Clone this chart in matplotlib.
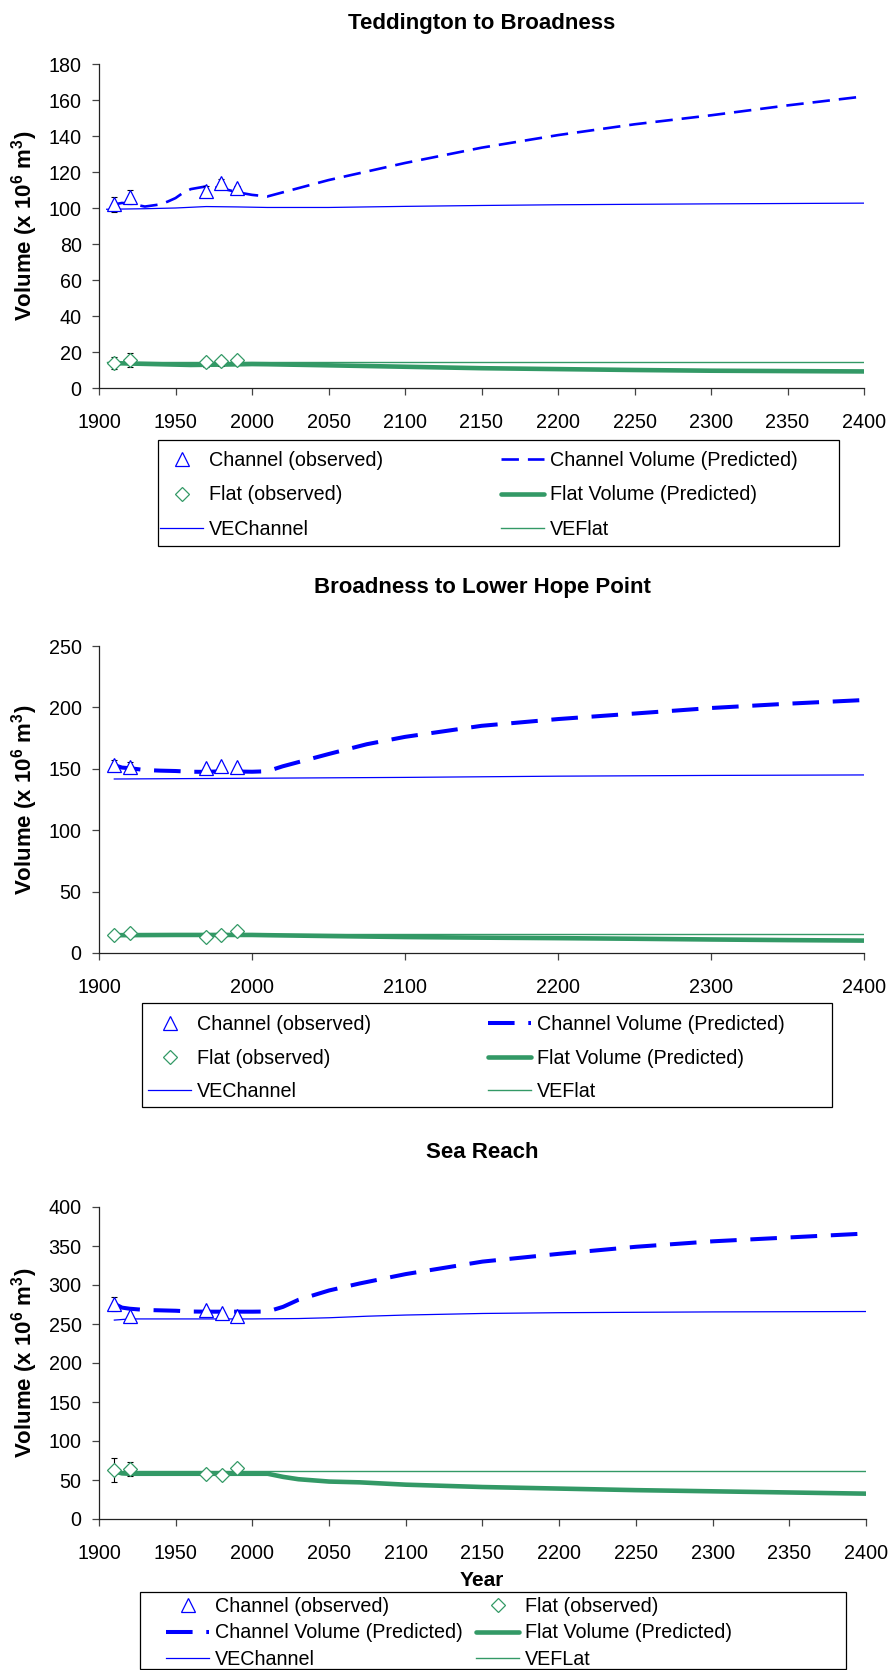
import matplotlib
matplotlib.use('Agg')
import matplotlib.pyplot as plt
from matplotlib.patches import Rectangle

plt.rcParams['font.family'] = ['Liberation Sans', 'DejaVu Sans']
plt.rcParams['mathtext.fontset'] = 'custom'
plt.rcParams['mathtext.rm'] = 'Liberation Sans'
plt.rcParams['mathtext.bf'] = 'Liberation Sans:bold'

W, H = 891, 1670
BLUE = '#0000ff'
GREEN = '#339966'
LEGEND_FS = 14.2

# observed survey years (same for all reaches)
obs_years = [1910, 1920, 1970, 1980, 1990]

# --- Teddington to Broadness ---
ted_channel_obs = [102, 106, 109.7, 113.8, 111]
ted_channel_err = [4, 4, 2.5, 2.5, 1]
ted_flat_obs = [13.9, 15.7, 14.2, 14.8, 15.3]
ted_flat_err = [3.5, 4, 2.7, 2.5, 1]
ted_pred_years = [1910, 1915, 1920, 1930, 1940, 1945, 1950, 1955, 1960, 1970,
                  1980, 1990, 2000, 2010, 2050, 2100, 2150, 2200, 2250, 2300,
                  2350, 2400]
ted_channel_pred = [102, 102.8, 102.5, 100.8, 102, 103.6, 105.5, 108.5, 110.5,
                    112, 111, 108.8, 107.3, 106.4, 115.5, 125, 133.5, 140.5,
                    146.5, 151.5, 157, 162]
ted_flat_years = [1910, 1930, 1960, 1980, 2000, 2010, 2050, 2100, 2150, 2200,
                  2250, 2300, 2350, 2400]
ted_flat_pred = [13.8, 13.4, 12.8, 13, 13.3, 13.2, 12.6, 11.8, 11, 10.5, 10,
                 9.6, 9.4, 9.2]
ted_ve_years = [1905, 1930, 1950, 1970, 1990, 2010, 2050, 2100, 2150, 2200,
                2300, 2400]
ted_ve_channel = [99.3, 99.6, 100, 100.8, 100.6, 100.3, 100.3, 100.9, 101.4,
                  101.8, 102.3, 102.7]
ted_veflat_years = [1905, 2000, 2100, 2200, 2300, 2400]
ted_ve_flat = [14.2, 14.2, 14.2, 14.2, 14.2, 14.2]

# --- Broadness to Lower Hope Point ---
blh_channel_obs = [153, 151.7, 150.9, 152.3, 151.2]
blh_channel_err = [4, 4, 0, 0, 0]
blh_flat_obs = [14.7, 16, 13.3, 14.7, 18.2]
blh_flat_err = [0, 0, 0, 0, 0]
blh_pred_years = [1910, 1915, 1920, 1930, 1940, 1950, 1960, 1970, 1980, 1990,
                  2000, 2010, 2020, 2050, 2075, 2100, 2150, 2200, 2250, 2300,
                  2350, 2400]
blh_channel_pred = [153, 151, 150.5, 149, 148.5, 148.2, 147.6, 147.5, 148,
                    147.8, 147.6, 148, 152, 162, 170, 176, 185, 190.5, 195,
                    199.5, 203, 206]
blh_flat_years = [1910, 1950, 2000, 2010, 2050, 2100, 2150, 2200, 2250, 2300,
                  2350, 2400]
blh_flat_pred = [14.5, 14.7, 14.7, 14.5, 13.8, 13, 12.5, 12.1, 11.6, 11, 10.5,
                 10.1]
blh_ve_years = [1910, 2000, 2100, 2200, 2300, 2400]
blh_ve_channel = [141.7, 142.3, 143, 144, 144.6, 145]
blh_veflat_years = [1910, 2000, 2100, 2200, 2300, 2400]
blh_ve_flat = [15.2, 15.2, 15.2, 15.2, 15.2, 15.2]

# --- Sea Reach ---
sea_channel_obs = [275.6, 259.7, 267.4, 264, 259.7]
sea_channel_err = [8.5, 0, 0, 0, 0]
sea_flat_obs = [62.3, 64.1, 58, 56, 65.4]
sea_flat_err = [15.5, 9.5, 0, 5, 0]
sea_pred_years = [1910, 1915, 1920, 1930, 1940, 1950, 1960, 1970, 1980, 1990,
                  2000, 2010, 2020, 2030, 2050, 2070, 2100, 2150, 2200, 2250,
                  2300, 2350, 2400]
sea_channel_pred = [276, 271, 269.6, 268, 267.5, 267, 266, 265.8, 265.8, 265.8,
                    265.8, 266, 272, 281, 293, 302, 314, 330, 340, 349, 356,
                    361, 366]
sea_flat_years = [1910, 1915, 1920, 1950, 2000, 2010, 2020, 2030, 2050, 2070,
                  2100, 2150, 2200, 2250, 2300, 2350, 2400]
sea_flat_pred = [61, 58.5, 58, 58, 58, 58, 54, 51, 48, 47, 44, 41, 39, 37,
                 35.5, 34, 32.5]
sea_ve_years = [1910, 1920, 1950, 2000, 2030, 2050, 2075, 2100, 2150, 2200,
                2300, 2400]
sea_ve_channel = [255, 256.5, 256.5, 256.5, 257, 258, 260, 261.5, 263.5, 264.5,
                  265.5, 266]
sea_veflat_years = [1910, 2000, 2100, 2200, 2300, 2400]
sea_ve_flat = [61, 61, 61, 61, 61, 61]


fig = plt.figure(figsize=(W / 100, H / 100), dpi=100)


def px_axes(left, right, top, bottom):
    return fig.add_axes([left / W, 1 - bottom / H,
                         (right - left) / W, (bottom - top) / H])


def draw_panel(ax, chan_obs, chan_err, flat_obs, flat_err,
               pred_years, chan_pred, flat_years, flat_pred,
               ve_years, ve_chan, vf_years, ve_flat,
               dash_lw, ylim, yticks, xticks):
    h_vf, = ax.plot(vf_years, ve_flat, color=GREEN, lw=1.0, zorder=2)
    h_vc, = ax.plot(ve_years, ve_chan, color=BLUE, lw=0.9, zorder=2)
    h_fp, = ax.plot(flat_years, flat_pred, color=GREEN, lw=3.3, zorder=3,
                    solid_capstyle='round')
    h_cp, = ax.plot(pred_years, chan_pred, color=BLUE, lw=dash_lw, zorder=3,
                    dashes=(6.6, 3.4))
    ax.errorbar(obs_years, chan_obs, yerr=chan_err, fmt='none', ecolor='black',
                elinewidth=0.8, capsize=2.5, capthick=0.8, zorder=4)
    ax.errorbar(obs_years, flat_obs, yerr=flat_err, fmt='none', ecolor='black',
                elinewidth=0.8, capsize=2.5, capthick=0.8, zorder=4)
    h_co, = ax.plot(obs_years, chan_obs, ls='none', marker='^', ms=10,
                    mfc='white', mec=BLUE, mew=0.9, zorder=5)
    h_fo, = ax.plot(obs_years, flat_obs, ls='none', marker='D', ms=7,
                    mfc='white', mec=GREEN, mew=0.9, zorder=5)

    ax.set_xlim(1900, 2400)
    ax.set_ylim(*ylim)
    ax.set_xticks(xticks)
    ax.set_yticks(yticks)
    for side in ('top', 'right'):
        ax.spines[side].set_visible(False)
    for side in ('left', 'bottom'):
        ax.spines[side].set_linewidth(0.9)
        ax.spines[side].set_color('#222222')
    ax.tick_params(length=5, width=0.9, color='#444444', labelsize=14.2)
    ax.tick_params(axis='y', pad=7.5)
    ax.tick_params(axis='x', pad=13)
    return dict(co=h_co, fo=h_fo, vc=h_vc, cp=h_cp, fp=h_fp, vf=h_vf)


def draw_legend(columns, col_x, row_mid, spacing, frame):
    x0, x1, y0, y1 = frame
    fig.patches.append(Rectangle((x0 / W, 1 - y1 / H), (x1 - x0) / W,
                                 (y1 - y0) / H, transform=fig.transFigure,
                                 fill=False, edgecolor='black', lw=0.9))
    for entries, cx in zip(columns, col_x):
        handles = [e[0] for e in entries]
        labels = [e[1] for e in entries]
        fig.legend(handles, labels, loc='center left',
                   bbox_to_anchor=(cx / W, 1 - row_mid / H),
                   frameon=False, fontsize=LEGEND_FS, borderpad=0,
                   borderaxespad=0, handlelength=2.2, handletextpad=0.3,
                   labelspacing=spacing)


def title(text, y):
    fig.text(482 / W, 1 - y / H, text, ha='center', va='center',
             fontsize=16, fontweight='bold')


def ylabel(top, bottom):
    fig.text(25 / W, 1 - (top + bottom) / 2 / H,
             r'Volume (x 10$^{\mathbf{6}}$ m$^{\mathbf{3}}$)',
             rotation=90, ha='center', va='center', fontsize=16,
             fontweight='bold')


# Teddington to Broadness
ax1 = px_axes(99, 864, 64, 388)
h1 = draw_panel(ax1, ted_channel_obs, ted_channel_err, ted_flat_obs,
                ted_flat_err, ted_pred_years, ted_channel_pred,
                ted_flat_years, ted_flat_pred, ted_ve_years, ted_ve_channel,
                ted_veflat_years, ted_ve_flat, 1.9, (0, 180),
                range(0, 181, 20), range(1900, 2401, 50))
title('Teddington to Broadness', 23)
ylabel(64, 388)
draw_legend(
    [[(h1['co'], 'Channel (observed)'), (h1['fo'], 'Flat (observed)'),
      (h1['vc'], 'VEChannel')],
     [(h1['cp'], 'Channel Volume (Predicted)'),
      (h1['fp'], 'Flat Volume (Predicted)'), (h1['vf'], 'VEFlat')]],
    [160, 501], 495, 0.8, (157.5, 839, 440, 546))

# Broadness to Lower Hope Point
ax2 = px_axes(99, 864, 646, 953)
h2 = draw_panel(ax2, blh_channel_obs, blh_channel_err, blh_flat_obs,
                blh_flat_err, blh_pred_years, blh_channel_pred,
                blh_flat_years, blh_flat_pred, blh_ve_years, blh_ve_channel,
                blh_veflat_years, blh_ve_flat, 2.9, (0, 250),
                range(0, 251, 50), range(1900, 2401, 100))
title('Broadness to Lower Hope Point', 588)
ylabel(646, 953)
draw_legend(
    [[(h2['co'], 'Channel (observed)'), (h2['fo'], 'Flat (observed)'),
      (h2['vc'], 'VEChannel')],
     [(h2['cp'], 'Channel Volume (Predicted)'),
      (h2['fp'], 'Flat Volume (Predicted)'), (h2['vf'], 'VEFlat')]],
    [148, 488], 1058, 0.73, (142, 832, 1003, 1107))

# Sea Reach
ax3 = px_axes(99, 866, 1207, 1519)
h3 = draw_panel(ax3, sea_channel_obs, sea_channel_err, sea_flat_obs,
                sea_flat_err, sea_pred_years, sea_channel_pred,
                sea_flat_years, sea_flat_pred, sea_ve_years, sea_ve_channel,
                sea_veflat_years, sea_ve_flat, 2.9, (0, 400),
                range(0, 401, 50), range(1900, 2401, 50))
title('Sea Reach', 1152)
ylabel(1207, 1519)
fig.text(482 / W, 1 - 1581 / H, 'Year', ha='center', va='center',
         fontsize=15, fontweight='bold')
draw_legend(
    [[(h3['co'], 'Channel (observed)'),
      (h3['cp'], 'Channel Volume (Predicted)'), (h3['vc'], 'VEChannel')],
     [(h3['fo'], 'Flat (observed)'), (h3['fp'], 'Flat Volume (Predicted)'),
      (h3['vf'], 'VEFLat')]],
    [166, 476], 1633, 0.38, (140, 846, 1592, 1669))

fig.savefig('out.png', dpi=100)
